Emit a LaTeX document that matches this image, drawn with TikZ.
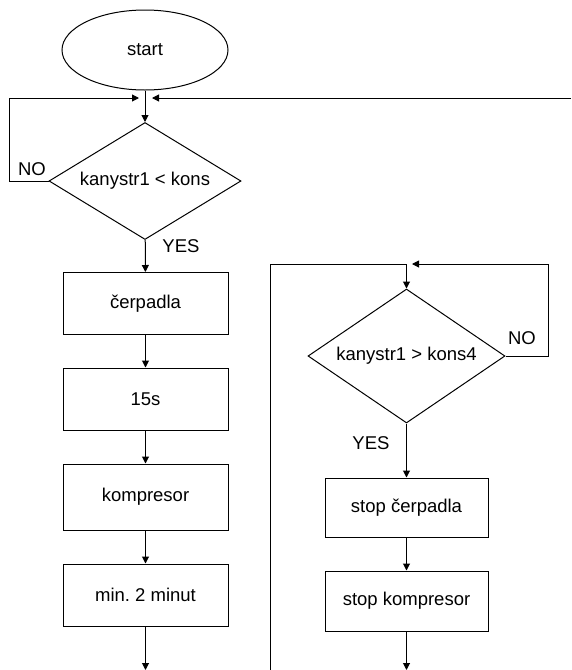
\documentclass[tikz,border=0pt]{standalone}
\usepackage{fontspec}
\setmainfont{Liberation Sans}
\usetikzlibrary{shapes.geometric,arrows.meta}

\begin{document}
\begin{tikzpicture}[x=1pt, y=-1pt, line width=1pt,
	    every node/.style={font=\fontsize{18.5}{22}\selectfont, inner sep=0pt},
	    terminal/.style={draw, ellipse, minimum width=166pt, minimum height=80pt},
	    decision/.style={draw, diamond},
	    process/.style={draw, rectangle, minimum width=165pt, minimum height=62pt},
	    flow/.style={-{Triangle[length=7pt,width=7pt]}}]

	\useasboundingbox (0,0) rectangle (571,670);

	% left column
	\node[terminal] (start) at (145,50) {start};
	\node[decision, minimum width=192pt, minimum height=117pt, shape aspect=1.64] (cond1) at (145,181) {kanystr1 < kons};
	\node[process] (pumps) at (145.5,303.5) {čerpadla};
	\node[process] (wait15) at (145.5,399) {15s};
	\node[process, minimum height=66pt] (comp) at (145.5,497) {kompresor};
	\node[process] (wait2) at (145.5,595) {min.\ 2 minut};

	% right column
	\node[decision, minimum width=197pt, minimum height=134pt, shape aspect=1.47] (cond2) at (406.5,356) {kanystr1 > kons4};
	\node[process, minimum width=163pt, minimum height=59pt] (stoppumps) at (406.5,507.5) {stop čerpadla};
	\node[process, minimum width=163pt, minimum height=60pt] (stopcomp) at (406.5,601) {stop kompresor};

	% labels
	\node (no1) at (32,169) {NO};
	\node (yes1) at (181,246) {YES};
	\node (no2) at (522,338) {NO};
	\node (yes2) at (371,443) {YES};

	% loose ends
	\coordinate (loopL) at (9,98);
	\coordinate (joinL) at (139,98);
	\coordinate (joinR) at (152,98);
	\coordinate (backR) at (571,98);
	\coordinate (endL) at (145.5,670);
	\coordinate (endR) at (406.5,670);
	\coordinate (sideB) at (270,670);
	\coordinate (topB) at (270,264);
	\coordinate (cornB) at (406.5,264);
	\coordinate (loopR) at (548,264);
	\coordinate (joinB) at (412,264);

	% connectors
	\draw[flow] (start) -- (cond1);
	\draw[flow] (cond1.west) -| (loopL) -- (joinL);
	\draw[flow] (backR) -- (joinR);
	\draw[flow] (cond1) -- (pumps);
	\draw[flow] (pumps) -- (wait15);
	\draw[flow] (wait15) -- (comp);
	\draw[flow] (comp) -- (wait2);
	\draw[flow] (wait2) -- (endL);

	\draw[flow] (sideB) -- (topB) -- (cornB) -- (cond2.north);
	\draw[flow] (cond2.east) -| (loopR) -- (joinB);
	\draw[flow] (cond2) -- (stoppumps);
	\draw[flow] (stoppumps) -- (stopcomp);
	\draw[flow] (stopcomp) -- (endR);
\end{tikzpicture}
\end{document}
